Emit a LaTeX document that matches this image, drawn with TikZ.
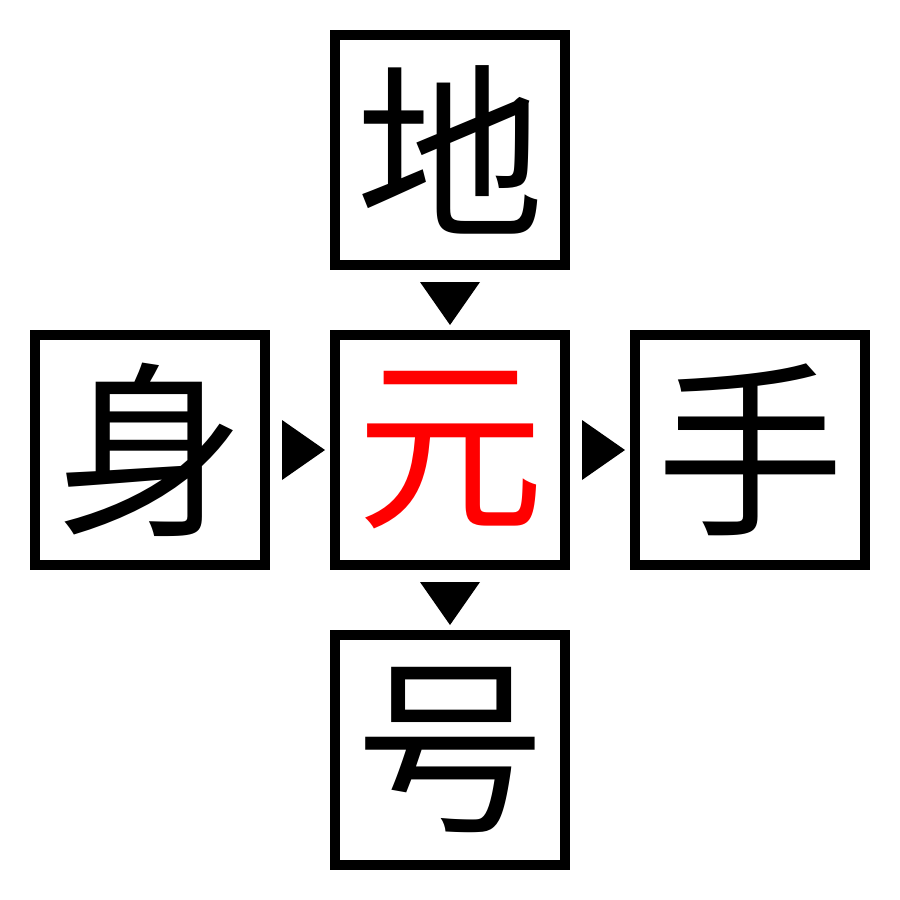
\documentclass[tikz,border=0pt]{standalone}
\usepackage{fontspec}
\newfontfamily\cjk{Noto Sans CJK JP}
\usetikzlibrary{calc}
\tikzset{
  charbox/.style={draw=black, line width=10pt, minimum size=230pt, inner sep=0pt, font=\cjk\fontsize{188}{188}\selectfont},
  marker/.style={fill=black},
}
\begin{document}
\begin{tikzpicture}[x=1pt,y=-1pt]
\useasboundingbox (0,0) rectangle (900,900);
\node[charbox] (top) at (450,150) {地};
\node[charbox, text=red] (mid) at (450,450) {元};
\node[charbox] (left) at (150,450) {身};
\node[charbox] (right) at (750,450) {手};
\node[charbox] (bot) at (450,750) {号};
% down markers
\fill[marker] ($(top.south)+(-30,12)$) -- ($(top.south)+(30,12)$) -- ($(top.south)+(0,55)$) -- cycle;
\fill[marker] ($(mid.south)+(-30,12)$) -- ($(mid.south)+(30,12)$) -- ($(mid.south)+(0,55)$) -- cycle;
% right markers
\fill[marker] ($(left.east)+(12,-30)$) -- ($(left.east)+(12,30)$) -- ($(left.east)+(55,0)$) -- cycle;
\fill[marker] ($(mid.east)+(12,-30)$) -- ($(mid.east)+(12,30)$) -- ($(mid.east)+(55,0)$) -- cycle;
\end{tikzpicture}
\end{document}
